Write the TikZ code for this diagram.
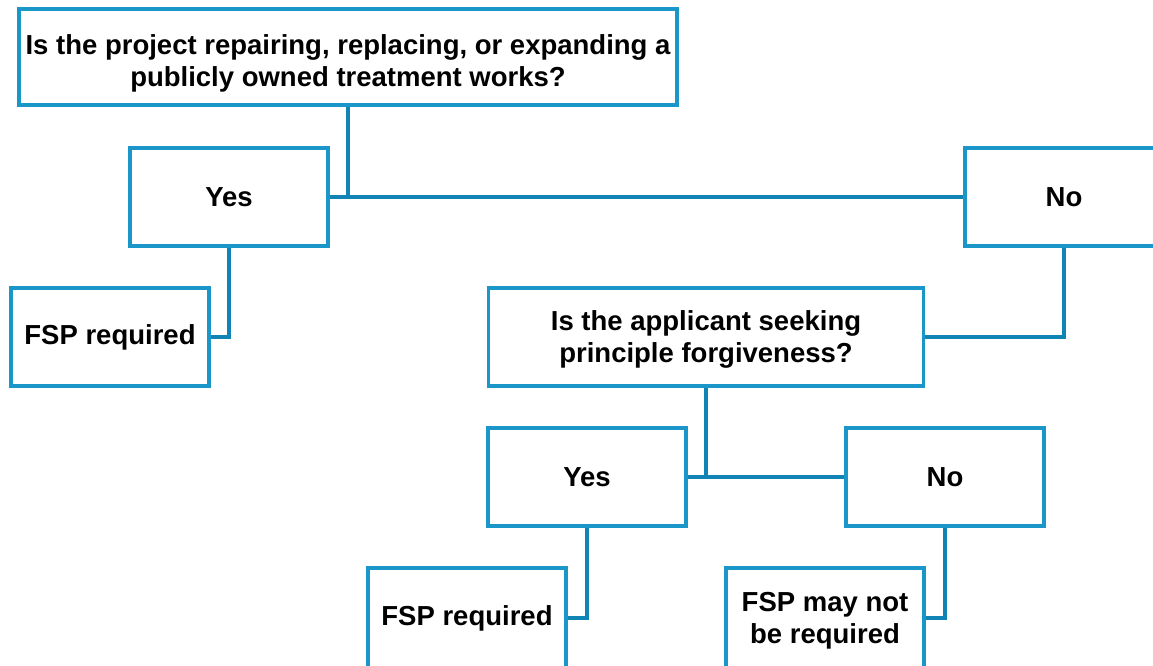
\documentclass[tikz,border=0pt]{standalone}
\usepackage{fontspec}
\setmainfont{Liberation Sans}
\definecolor{boxblue}{RGB}{26,150,200}
\definecolor{lineblue}{RGB}{16,132,181}
\begin{document}
\begin{tikzpicture}[x=1pt,y=-1pt,
  box/.style={draw=boxblue,line width=3.5pt,fill=white,inner sep=0pt,align=center,
    font=\fontsize{27.5}{32}\selectfont\bfseries},
  conn/.style={draw=lineblue,line width=3.2pt}]
\useasboundingbox (0,0) rectangle (1153,666);
\clip (0,0) rectangle (1153,666);
\node[box,minimum width=658pt,minimum height=96pt] (q1) at (348,57)
  {\rule{0pt}{32pt}Is the project repairing, replacing, or expanding a\\publicly owned treatment works?};
\node[box,minimum width=198pt,minimum height=98pt] (yes1) at (229,197) {Yes};
\node[box,minimum width=198pt,minimum height=98pt] (no1) at (1064,197) {No};
\node[box,minimum width=198pt,minimum height=98pt] (fsp1) at (110,337) {FSP required};
\node[box,minimum width=435pt,minimum height=98pt] (q2) at (706,337)
  {\rule{0pt}{25pt}Is the applicant seeking\\principle forgiveness?};
\node[box,minimum width=198pt,minimum height=98pt] (yes2) at (587,477) {Yes};
\node[box,minimum width=198pt,minimum height=98pt] (no2) at (945,477) {No};
\node[box,minimum width=198pt,minimum height=100pt] (fsp2) at (467,618) {FSP required};
\node[box,minimum width=198pt,minimum height=100pt] (fsp3) at (825,618) {\rule{0pt}{24pt}FSP may not\\be required};
\draw[conn] (q1.south) -- (q1.south |- yes1.east);
\draw[conn] (yes1.east) -- (no1.west);
\draw[conn] (yes1.south) |- (fsp1.east);
\draw[conn] (no1.south) |- (q2.east);
\draw[conn] (q2.south) -- (q2.south |- yes2.east);
\draw[conn] (yes2.east) -- (no2.west);
\draw[conn] (yes2.south) |- (fsp2.east);
\draw[conn] (no2.south) |- (fsp3.east);
\end{tikzpicture}
\end{document}
